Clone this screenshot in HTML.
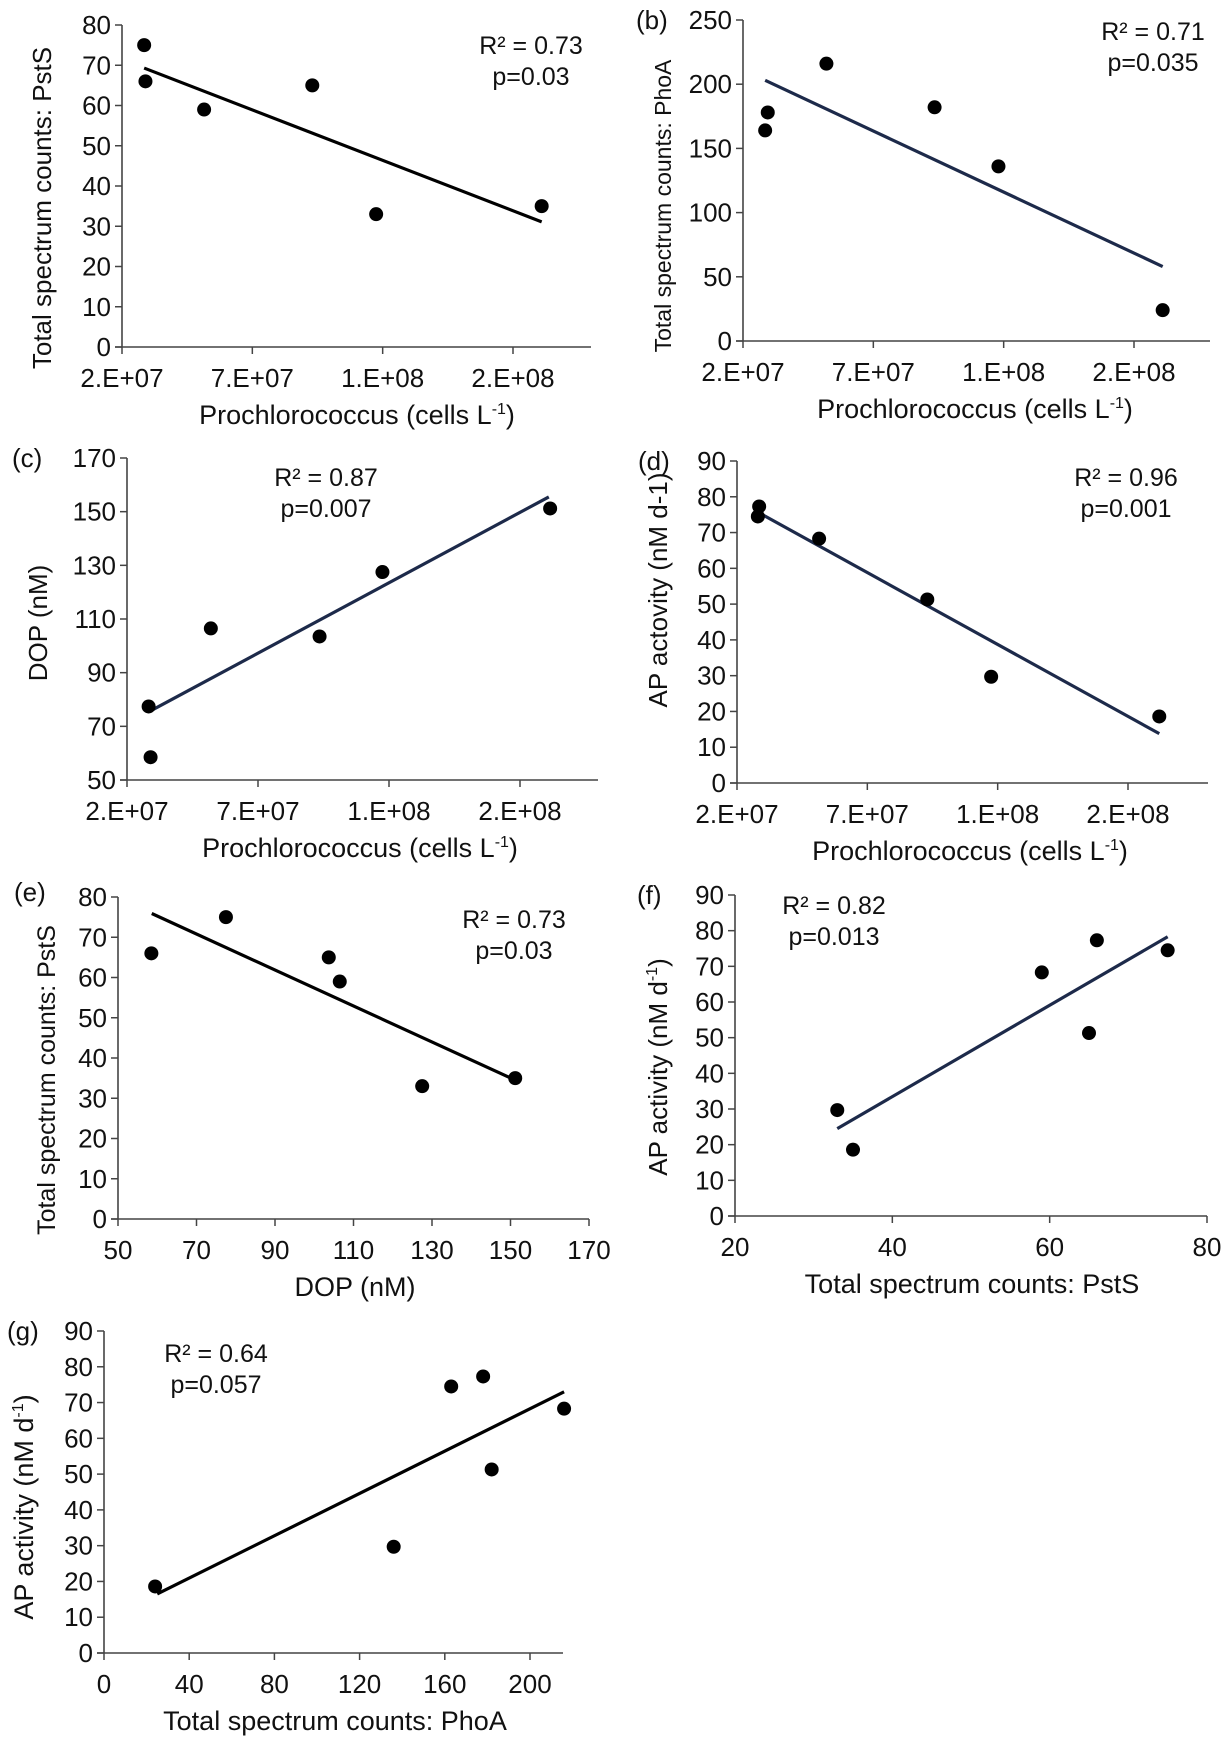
<!DOCTYPE html>
<html><head><meta charset="utf-8"><style>
html,body{margin:0;padding:0;background:#fff;}
svg{display:block;font-family:"Liberation Sans",Arial,sans-serif;}
</style></head><body>
<svg id="fig" width="1223" height="1737" viewBox="0 0 1223 1737" xmlns="http://www.w3.org/2000/svg"></svg>
<script>
// ---- data (x values for Prochlorococcus panels are positions on the category-style axis, tick units) ----
const procTicks = ["2.E+07","7.E+07","1.E+08","2.E+08"];
const aX = [0.17,0.18,0.63,1.46,1.95,3.22];
const aY = [75,66,59,65,33,35];
const aTrendX = [0.17,3.22];
const aTrendY = [69.3,31.1];
const bX = [0.17,0.19,0.64,1.47,1.96,3.22];
const bY = [164,178,216,182,136,24];
const bTrendX = [0.17,3.22];
const bTrendY = [203,58];
const cX = [0.165,0.18,0.64,1.47,1.95,3.23];
const cY = [77.4,58.5,106.5,103.5,127.5,151.2];
const cTrendX = [0.17,3.22];
const cTrendY = [75.5,155.5];
const dX = [0.16,0.17,0.63,1.46,1.95,3.24];
const dY = [74.5,77.3,68.3,51.3,29.7,18.6];
const dTrendX = [0.16,3.24];
const dTrendY = [75.7,13.8];
const eX = [58.5,77.5,103.7,106.5,127.5,151.2];
const eY = [66,75,65,59,33,35];
const eTrendX = [58.6,151];
const eTrendY = [75.9,34.6];
const fX = [33,35,59,65,66,75];
const fY = [29.7,18.6,68.3,51.3,77.3,74.5];
const fTrendX = [33,75];
const fTrendY = [24.5,78.3];
const gX = [24,136,163,178,182,216];
const gY = [18.6,29.7,74.5,77.3,51.3,68.3];
const gTrendX = [25,216];
const gTrendY = [16.5,73];

const NS = "http://www.w3.org/2000/svg";
const svg = document.getElementById('fig');
function mk(tag, attrs, parent, txt){
  const e = document.createElementNS(NS, tag);
  for (const k in attrs) e.setAttribute(k, attrs[k]);
  if (txt !== undefined) e.textContent = txt;
  (parent || svg).appendChild(e);
  return e;
}
const TF = 26, TT = 27, SF = 25;

function panel(p){
  const g = mk('g', {});
  
  
  const sx = v => p.left + (v - p.xmin) / (p.xmax - p.xmin) * (p.right - p.left);
  const sy = v => p.bottom - (v - p.ymin) / (p.ymax - p.ymin) * (p.bottom - p.top);
  const ya = mk('line', {x1:p.left, y1:p.top, x2:p.left, y2:p.bottom, stroke:'#444', 'stroke-width':1.6}, g);
  
  
  const xa = mk('line', {x1:p.left - 7, y1:p.bottom, x2:p.axisEnd, y2:p.bottom, stroke:'#444', 'stroke-width':1.6}, g);
  
  
  for (let v = p.ymin; v <= p.ymax + 1e-9; v += p.ystep){
    const y = sy(v);
    mk('line', {x1:p.left - 7, y1:y, x2:p.left, y2:y, stroke:'#444', 'stroke-width':1.5}, g);
    const t = mk('text', {x:p.left - 11, y:y + 9, 'font-size':TF, 'text-anchor':'end', fill:'#111'}, g, String(v));
    
    
  }
  p.xticks.forEach((v, i) => {
    const x = sx(v);
    mk('line', {x1:x, y1:p.bottom, x2:x, y2:p.bottom + 7, stroke:'#444', 'stroke-width':1.5}, g);
    const t = mk('text', {x:x, y:p.bottom + 40, 'font-size':TF, 'text-anchor':'middle', fill:'#111'}, g, p.xlabels[i]);
    
    
  });
  const xt = mk('text', {x:p.xtx, y:p.bottom + 77, 'font-size':TT, 'text-anchor':'middle', fill:'#111'}, g);
  
  
  if (p.xsup){
    xt.appendChild(document.createTextNode(p.xtitle));
    mk('tspan', {'font-size':16, dy:-10}, xt, '-1');
    mk('tspan', {dy:10}, xt, ')');
  } else xt.textContent = p.xtitle;
  const yt = mk('text', {x:0, y:0, 'font-size':p.yfs, 'text-anchor':'middle', fill:'#111',
    transform:'translate(' + (p.ytx + 8) + ',' + p.yty + ') rotate(-90)'}, g);
  
  
  if (p.ysup){
    yt.appendChild(document.createTextNode(p.ytitle));
    mk('tspan', {'font-size':16, dy:-10}, yt, '-1');
    mk('tspan', {dy:10}, yt, ')');
  } else yt.textContent = p.ytitle;
  if (p.letter){
    const l = mk('text', {x:p.lx, y:p.ly, 'font-size':TF, fill:'#111'}, g, p.letter);
    
    
  }
  const tl = mk('line', {x1:sx(p.tx[0]), y1:sy(p.ty[0]), x2:sx(p.tx[1]), y2:sy(p.ty[1]),
    stroke:p.navy ? '#1d2a4a' : '#000', 'stroke-width':3.2}, g);
  
  
  p.xs.forEach((xv, i) => {
    const c = mk('circle', {cx:sx(xv), cy:sy(p.ys[i]), r:7, fill:'#000'}, g);
    
    
  });
  const s1 = mk('text', {x:p.sx, y:p.sy, 'font-size':SF, 'text-anchor':'middle', fill:'#111'}, g, p.r2);
  
  
  const s2 = mk('text', {x:p.sx, y:p.sy + 31, 'font-size':SF, 'text-anchor':'middle', fill:'#111'}, g, p.pv);
  
  
}

const procT = [0,1,2,3];
panel({id:'a', left:122, right:513, xmin:0, xmax:3, axisEnd:591, top:25, bottom:347, ymin:0, ymax:80, ystep:10,
  xticks:procT, xlabels:procTicks, xtitle:'Prochlorococcus (cells L', xsup:true, xtx:357,
  ytitle:'Total spectrum counts: PstS', yfs:26, ytx:43, yty:208,
  xs:aX, ys:aY, tx:aTrendX, ty:aTrendY, navy:false, sx:531, sy:54, r2:'R² = 0.73', pv:'p=0.03'});
panel({id:'b', left:743, right:1134, xmin:0, xmax:3, axisEnd:1210, top:20, bottom:341, ymin:0, ymax:250, ystep:50,
  xticks:procT, xlabels:procTicks, xtitle:'Prochlorococcus (cells L', xsup:true, xtx:975,
  ytitle:'Total spectrum counts: PhoA', yfs:23, ytx:663, yty:206, letter:'(b)', lx:636, ly:29,
  xs:bX, ys:bY, tx:bTrendX, ty:bTrendY, navy:true, sx:1153, sy:40, r2:'R² = 0.71', pv:'p=0.035'});
panel({id:'c', left:127, right:520, xmin:0, xmax:3, axisEnd:598, top:458, bottom:780, ymin:50, ymax:170, ystep:20,
  xticks:procT, xlabels:procTicks, xtitle:'Prochlorococcus (cells L', xsup:true, xtx:360,
  ytitle:'DOP (nM)', yfs:26, ytx:39, yty:623, letter:'(c)', lx:12, ly:467,
  xs:cX, ys:cY, tx:cTrendX, ty:cTrendY, navy:true, sx:326, sy:486, r2:'R² = 0.87', pv:'p=0.007'});
panel({id:'d', left:737, right:1128, xmin:0, xmax:3, axisEnd:1208, top:461, bottom:783, ymin:0, ymax:90, ystep:10,
  xticks:procT, xlabels:procTicks, xtitle:'Prochlorococcus (cells L', xsup:true, xtx:970,
  ytitle:'AP actovity  (nM d-1)', yfs:26, ytx:659, yty:590, letter:'(d)', lx:638, ly:470,
  xs:dX, ys:dY, tx:dTrendX, ty:dTrendY, navy:true, sx:1126, sy:486, r2:'R² = 0.96', pv:'p=0.001'});
panel({id:'e', left:118, right:589, xmin:50, xmax:170, axisEnd:589, top:897, bottom:1219, ymin:0, ymax:80, ystep:10,
  xticks:[50,70,90,110,130,150,170], xlabels:['50','70','90','110','130','150','170'], xtitle:'DOP (nM)', xsup:false, xtx:355,
  ytitle:'Total spectrum counts: PstS', yfs:25, ytx:47, yty:1080, letter:'(e)', lx:14, ly:901,
  xs:eX, ys:eY, tx:eTrendX, ty:eTrendY, navy:false, sx:514, sy:928, r2:'R² = 0.73', pv:'p=0.03'});
panel({id:'f', left:735, right:1207, xmin:20, xmax:80, axisEnd:1207, top:895, bottom:1216, ymin:0, ymax:90, ystep:10,
  xticks:[20,40,60,80], xlabels:['20','40','60','80'], xtitle:'Total spectrum counts: PstS', xsup:false, xtx:972,
  ytitle:'AP activity (nM d', ysup:true, yfs:26, ytx:659, yty:1067, letter:'(f)', lx:637, ly:904,
  xs:fX, ys:fY, tx:fTrendX, ty:fTrendY, navy:true, sx:834, sy:914, r2:'R² = 0.82', pv:'p=0.013'});
panel({id:'g', left:104, right:530, xmin:0, xmax:200, axisEnd:563, top:1331, bottom:1653, ymin:0, ymax:90, ystep:10,
  xticks:[0,40,80,120,160,200], xlabels:['0','40','80','120','160','200'], xtitle:'Total spectrum counts: PhoA', xsup:false, xtx:335,
  ytitle:'AP activity (nM d', ysup:true, yfs:27, ytx:25, yty:1507, letter:'(g)', lx:7, ly:1340,
  xs:gX, ys:gY, tx:gTrendX, ty:gTrendY, navy:false, sx:216, sy:1362, r2:'R² = 0.64', pv:'p=0.057'});
</script>
</body></html>
